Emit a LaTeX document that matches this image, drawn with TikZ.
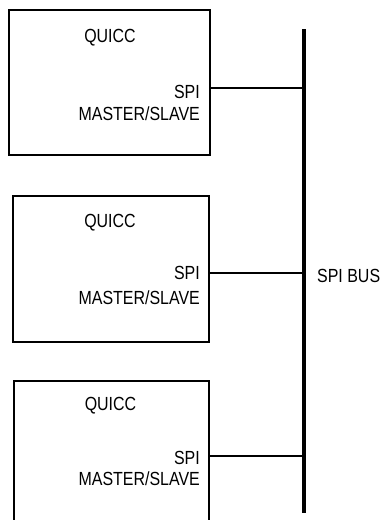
\documentclass[tikz,border=0pt]{standalone}
\usepackage{fontspec}
\setmainfont{Liberation Sans}[FakeStretch=0.84]
\begin{document}
\begin{tikzpicture}[x=1pt,y=-1pt,
  chip/.style={draw=black,line width=2pt,minimum width=#1,inner sep=0pt},
  lbl/.style={inner sep=0pt,font=\fontsize{19}{22}\selectfont},
  wire/.style={draw=black,line width=1.1pt},
  bus/.style={draw=black,line width=3.3pt}]
\useasboundingbox (0,0) rectangle (380,520);
\clip (0,0) rectangle (380,520);
% boxes
\node[chip=200.7pt,minimum height=145pt] (box1) at (109.3,82.5) {};
\node[chip=196pt,minimum height=146.3pt] (box2) at (111.3,269.2) {};
\node[chip=195pt,minimum height=150pt] (box3) at (111.5,456) {};
% labels
\node[lbl,anchor=base] (q1) at (110,42) {QUICC};
\node[lbl,anchor=base east] (s1) at (200,98) {SPI};
\node[lbl,anchor=base east] (m1) at (200,120) {MASTER/SLAVE};
\node[lbl,anchor=base] (q2) at (110,227.7) {QUICC};
\node[lbl,anchor=base east] (s2) at (200,279) {SPI};
\node[lbl,anchor=base east] (m2) at (200,304) {MASTER/SLAVE};
\node[lbl,anchor=base] (q3) at (110.5,410.7) {QUICC};
\node[lbl,anchor=base east] (s3) at (200,464.3) {SPI};
\node[lbl,anchor=base east] (m3) at (200,485.7) {MASTER/SLAVE};
% bus
\coordinate (bustop) at (304,29.3);
\coordinate (busbot) at (304,513);
\draw[bus] (bustop) -- (busbot);
\node[lbl,anchor=base west] (buslbl) at (317,282) {SPI BUS};
% connectors
\coordinate (c1) at (box1.east |- 0,88);
\coordinate (c2) at (box2.east |- 0,273);
\coordinate (c3) at (box3.east |- 0,456);
\draw[wire] (c1) -- (c1 -| bustop);
\draw[wire] (c2) -- (c2 -| bustop);
\draw[wire] (c3) -- (c3 -| bustop);
\end{tikzpicture}
\end{document}
